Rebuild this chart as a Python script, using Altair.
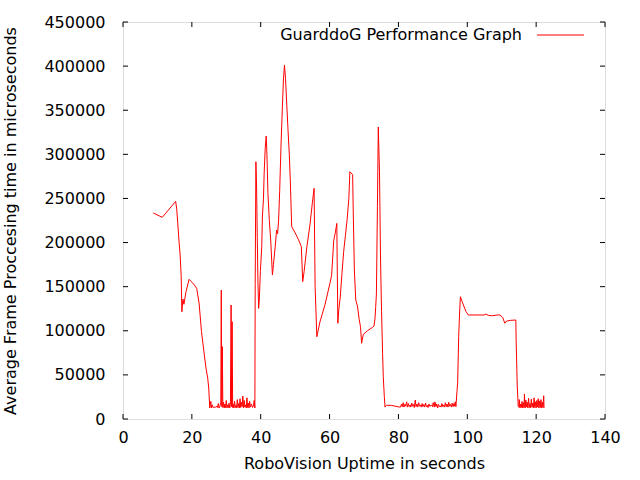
import altair as alt
import pandas as pd

# ---- data ----
# start-up part (seconds, microseconds)
x_start = [8.8, 11.4, 15.3, 15.6, 15.9, 16.3, 16.6, 16.9, 17.1, 17.4, 17.7, 18.3, 19.2, 20.5,
           21.4, 22.1, 22.8, 23.5, 24.1, 24.6, 24.9, 25.2]
y_start = [233500, 228600, 246700, 238000, 222000, 200000, 185900, 161300, 121600, 136000,
           130000, 144300, 158300, 153000, 148100, 131500, 99000, 76300, 57800, 46500, 35100, 12500]

# first low/noisy stretch
x_low1 = [25.5, 25.7, 25.9, 26.2, 26.5, 26.8, 27.1, 27.4, 27.7, 27.9, 28.2, 28.4, 28.55, 28.7,
          28.85, 29.0, 29.2, 29.4, 29.6, 29.8, 30.0, 30.2, 30.4, 30.6, 30.8, 31.0, 31.2, 31.4,
          31.55, 31.7, 31.85, 32.0, 32.2, 32.4, 32.6, 32.8, 33.0, 33.2, 33.4, 33.6, 33.8, 34.0,
          34.2, 34.4, 34.6, 34.8, 35.0, 35.2, 35.4, 35.6, 35.8, 36.0, 36.2, 36.4, 36.6, 36.8,
          37.0, 37.3, 37.6, 37.9, 38.1, 38.3]
y_low1 = [20000, 12500, 16000, 13000, 13500, 13000, 14500, 13000, 17500, 12500, 15000, 18500,
          146200, 14000, 82000, 13000, 19000, 12500, 17000, 13000, 21000, 12500, 16000, 13000,
          18000, 12500, 16500, 129200, 14000, 110300, 13000, 17000, 12500, 20000, 13000, 15500,
          12500, 22000, 13000, 17500, 12500, 23000, 13000, 19000, 14000, 26000, 12500, 21000,
          13500, 16000, 12500, 24000, 13000, 18000, 12500, 20000, 13500, 17000, 13000, 15000,
          21000, 12500]

# busy middle part
x_mid = [38.4, 38.6, 38.8, 39.0, 39.2, 39.4, 39.6, 39.9, 40.3, 40.5, 40.8, 41.0, 41.3, 41.6,
         41.8, 42.1, 42.5, 42.9, 43.4, 43.7, 44.2, 44.6, 44.9, 45.2, 45.5, 45.9, 46.3, 46.6,
         46.9, 47.2, 47.5, 47.9, 48.3, 48.6, 49.0, 50.0, 51.0, 51.8, 52.2, 52.6, 53.4, 54.3,
         55.0, 55.5, 55.8, 56.3, 57.2, 58.7, 60.1, 60.6, 61.2, 61.7, 62.1, 62.4, 62.7, 63.1,
         63.6, 64.1, 64.6, 65.1, 65.6, 65.9, 66.7, 66.9, 67.2, 67.6, 68.1, 68.6, 69.0, 69.3,
         69.8, 71.0, 72.5, 72.9, 73.2, 73.4, 73.6, 73.9, 74.15, 74.5, 74.8, 75.1, 75.4, 75.6,
         75.9, 76.1, 76.5, 77.9, 80.3]
y_mid = [153800, 291600, 263000, 206000, 153800, 125400, 136000, 167000, 195300, 230000,
         250200, 278500, 306800, 320800, 300000, 255800, 225000, 202900, 163200, 175000,
         195000, 214200, 210000, 225600, 257600, 310600, 354000, 384300, 401300, 386000,
         361600, 330000, 300000, 270000, 218000, 211000, 203000, 195300, 155700, 167000,
         195000, 220000, 245000, 261500, 150000, 93300, 110000, 130000, 153800, 163000,
         202000, 212000, 221700, 108500, 125000, 138000, 165000, 190000, 208000, 226000,
         250000, 280300, 277000, 230000, 168900, 134900, 128000, 113000, 104000, 85800,
         96000, 100000, 104000, 105400, 114100, 127300, 141700, 240700, 331000, 280300,
         182500, 121600, 74400, 48000, 25300, 13500, 15500, 15500, 13500]

# second low/noisy stretch
x_low2 = [80.6, 80.9, 81.1, 81.4, 81.6, 81.9, 82.1, 82.4, 82.6, 82.9, 83.1, 83.4, 83.6, 83.9,
          84.1, 84.4, 84.6, 84.9, 85.1, 85.4, 85.6, 85.9, 86.1, 86.4, 86.6, 86.9, 87.1, 87.4,
          87.6, 87.9, 88.1, 88.4, 88.6, 88.9, 89.1, 89.4, 89.6, 89.9, 90.1, 90.4, 90.6, 90.9,
          91.1, 91.4, 91.6, 91.9, 92.1, 92.4, 92.6, 92.9, 93.1, 93.4, 93.6, 93.9, 94.1, 94.4,
          94.6, 94.9, 95.1, 95.4, 95.6, 95.9, 96.1, 96.3, 96.5, 96.7]
y_low2 = [13500, 17000, 14000, 18500, 13500, 16500, 14500, 19500, 13500, 17500, 14000, 16000,
          13500, 18000, 14500, 16500, 13000, 21500, 14000, 17000, 13500, 18500, 14500, 16000,
          13500, 17500, 14000, 16500, 13500, 18000, 14000, 15500, 13000, 17000, 14500, 15000,
          16000, 14000, 18500, 13500, 19500, 14000, 17000, 12500, 16500, 14000, 15000, 13500,
          17500, 14000, 16000, 13500, 18500, 14000, 17000, 13500, 19000, 14500, 16500, 13500,
          18000, 14000, 17500, 14500, 19500, 14000]

# plateau part
x_plat = [97.0, 97.2, 97.5, 97.8, 98.0, 98.5, 99.0, 99.6, 100.3, 105.0, 105.2, 106.1, 107.0,
          109.0, 109.5, 110.3, 110.9, 111.4, 112.5, 114.1, 114.2, 114.5, 114.8]
y_plat = [31000, 41000, 93300, 123500, 138600, 133000, 128000, 122000, 117900, 117900, 119000,
          117500, 117000, 118000, 117900, 115000, 108500, 111000, 111800, 112200, 87600, 38500,
          14000]

# last low/noisy stretch
x_low3 = [115.0, 115.1, 115.3, 115.5, 115.7, 115.9, 116.1, 116.3, 116.5, 116.6, 116.8, 117.0,
          117.2, 117.4, 117.6, 117.8, 118.0, 118.2, 118.4, 118.6, 118.8, 119.0, 119.2, 119.4,
          119.6, 119.8, 120.0, 120.2, 120.4, 120.6, 120.8, 121.0, 121.2, 121.4, 121.6, 121.8,
          122.0, 122.2, 122.3]
y_low3 = [13500, 22000, 12500, 17000, 13000, 20000, 12500, 18500, 13000, 28300, 12500, 21500,
          13500, 19000, 12500, 23500, 13000, 17500, 12500, 22500, 13500, 18000, 12500, 24000,
          13000, 19500, 12500, 21000, 13500, 23000, 12500, 20500, 13000, 22000, 12500, 19000,
          13000, 26400, 12500]

x_ticks = [0, 20, 40, 60, 80, 100, 120, 140]
y_ticks = [0, 50000, 100000, 150000, 200000, 250000, 300000, 350000, 400000, 450000]

legend_label = "GuarddoG Performance Graph"
x_title = "RoboVision Uptime in seconds"
y_title = "Average Frame Proccesing time in microseconds"

# ---- build tables ----
xs = x_start + x_low1 + x_mid + x_low2 + x_plat + x_low3
ys = y_start + y_low1 + y_mid + y_low2 + y_plat + y_low3
df = pd.DataFrame({"x": xs, "y": ys})
xt = pd.DataFrame({"x": x_ticks})
yt = pd.DataFrame({"y": y_ticks})
one = pd.DataFrame({"a": [0]})

W, H = 482, 397
FONT = "DejaVu Sans"
FS = 16

xscale = alt.Scale(domain=[0, 140], nice=False, zero=False)
yscale = alt.Scale(domain=[0, 450000], nice=False, zero=False)

xaxis = alt.Axis(values=x_ticks, title=x_title, grid=False, domain=False,
                 ticks=False, labelPadding=10, titlePadding=10,
                 labelFont=FONT, labelFontSize=FS, labelColor="black",
                 titleFont=FONT, titleFontSize=FS, titleFontWeight="normal",
                 titleColor="black", labelFlush=False)
yaxis = alt.Axis(values=y_ticks, title=y_title, grid=False, domain=False,
                 ticks=False, labelPadding=18, titlePadding=25,
                 labelFont=FONT, labelFontSize=FS, labelColor="black",
                 titleFont=FONT, titleFontSize=FS, titleFontWeight="normal",
                 titleColor="black", labelFlush=False, format="d")

line = alt.Chart(df).mark_line(color="#ff0000", strokeWidth=1, clip=True).encode(
    x=alt.X("x:Q", scale=xscale, axis=xaxis),
    y=alt.Y("y:Q", scale=yscale, axis=yaxis),
)

TL = 5
xb = alt.Chart(xt).mark_rule(color="black", strokeWidth=1).encode(
    x=alt.X("x:Q", scale=xscale, axis=xaxis), y=alt.value(H), y2=alt.value(H - TL))
xtop = alt.Chart(xt).mark_rule(color="black", strokeWidth=1).encode(
    x=alt.X("x:Q", scale=xscale, axis=xaxis), y=alt.value(0), y2=alt.value(TL))
yl = alt.Chart(yt).mark_rule(color="black", strokeWidth=1).encode(
    y=alt.Y("y:Q", scale=yscale, axis=yaxis), x=alt.value(0), x2=alt.value(TL))
yr = alt.Chart(yt).mark_rule(color="black", strokeWidth=1).encode(
    y=alt.Y("y:Q", scale=yscale, axis=yaxis), x=alt.value(W), x2=alt.value(W - TL))

leg_text = alt.Chart(one).mark_text(align="right", baseline="middle", font=FONT,
                                    fontSize=FS, color="black").encode(
    x=alt.value(399), y=alt.value(13), text=alt.value(legend_label))
leg_line = alt.Chart(one).mark_rule(color="#ff0000", strokeWidth=1).encode(
    x=alt.value(414), x2=alt.value(461), y=alt.value(13))

chart = alt.layer(line, xb, xtop, yl, yr, leg_text, leg_line).properties(
    width=W, height=H,
    autosize=alt.AutoSizeParams(type="none"),
    padding={"left": 123, "top": 22, "right": 35, "bottom": 61},
).configure_view(stroke="black", strokeWidth=1).configure(background="white")

chart.save("out.html", embed_options={"renderer": "svg", "actions": False})
